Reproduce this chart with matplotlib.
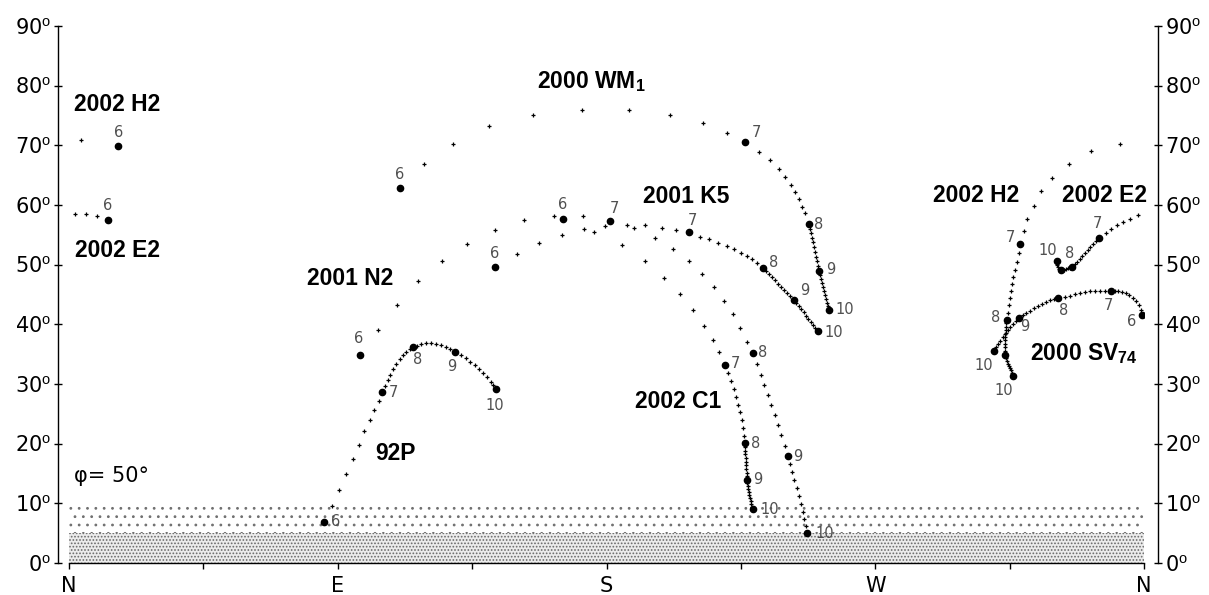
import matplotlib.pyplot as plt

plt.rcParams['mathtext.fontset'] = 'custom'
plt.rcParams['mathtext.rm'] = 'Liberation Sans'
plt.rcParams['mathtext.bf'] = 'Liberation Sans:bold'
plt.rcParams['hatch.linewidth'] = 0.8

month_names = ['6', '7', '8', '9', '10']

# 2000 WM1
wm1_month_az = [110.9, 226.4, 247.8, 251.2, 254.5]
wm1_month_alt = [62.8, 70.6, 56.8, 48.9, 42.4]
wm1_dots_az = [118.9, 128.6, 140.7, 155.4, 171.8, 187.5, 201.3, 212.3, 220.4,
               231.1, 234.8, 237.8, 239.8, 241.8, 243.1, 244.5, 245.5, 246.5,
               248.2, 248.5, 248.8, 249.2, 249.5, 249.8, 250.2, 250.5, 250.8,
               251.5, 251.8, 252.2, 252.5, 252.8, 253.2, 253.5, 253.8, 254.2]
wm1_dots_alt = [66.9, 70.2, 73.2, 75.1, 75.9, 75.9, 75.1, 73.7, 72.1,
                68.9, 67.5, 66.0, 64.7, 63.3, 62.2, 61.0, 59.7, 58.7,
                56.0, 55.3, 54.5, 53.8, 53.0, 52.1, 51.3, 50.6, 49.8,
                48.3, 47.6, 46.9, 46.3, 45.6, 44.9, 44.2, 43.6, 43.1]

# 2001 N2
n2_month_az = [97.5, 181.2, 229.1, 240.8, 247.2]
n2_month_alt = [34.9, 57.3, 35.2, 17.9, 5.0]
n2_dots_az = [103.5, 109.8, 116.9, 124.9, 133.3, 142.7, 152.4, 162.4, 172.1,
              189.2, 196.3, 202.3, 207.6, 212.0, 216.0, 219.4, 222.4, 224.7, 227.1,
              230.4, 231.8, 232.8, 234.1, 235.1, 236.4, 237.4, 238.4, 239.8,
              241.5, 242.1, 242.8, 243.8, 244.5, 245.1, 245.8, 246.1, 246.8]
n2_dots_alt = [39.0, 43.2, 47.3, 50.6, 53.5, 55.8, 57.5, 58.2, 58.2,
               56.1, 54.5, 52.6, 50.6, 48.4, 46.3, 43.9, 41.7, 39.4, 37.0,
               33.4, 31.5, 29.8, 28.2, 26.5, 24.8, 23.1, 21.5, 19.6,
               16.6, 15.3, 13.9, 12.6, 11.2, 9.9, 8.5, 7.4, 6.2]

# 2001 K5
k5_month_az = [142.7, 207.6, 232.4, 242.8, 250.8]
k5_month_alt = [49.6, 55.5, 49.4, 44.1, 38.9]
k5_dots_az = [150.0, 157.4, 165.1, 172.5, 179.5, 186.9, 192.9, 198.6, 203.3,
              211.3, 214.3, 217.4, 220.4, 222.7, 225.1, 227.1, 228.7, 230.4,
              233.4, 234.4, 235.4, 236.4, 237.4, 238.4, 239.5, 240.5, 241.5,
              243.5, 244.5, 245.1, 246.1, 246.8, 247.5, 248.5, 249.2, 249.8]
k5_dots_alt = [51.8, 53.6, 55.0, 56.0, 56.5, 56.6, 56.6, 56.1, 55.8,
               54.6, 54.3, 53.6, 53.1, 52.6, 52.0, 51.5, 50.9, 50.3,
               48.9, 48.4, 47.9, 47.4, 46.8, 46.3, 45.8, 45.2, 44.7,
               43.6, 43.1, 42.6, 42.1, 41.4, 40.9, 40.4, 39.9, 39.4]

# 2002 C1
c1_month_az = [165.4, 219.7, 226.4, 227.1, 229.1]
c1_month_alt = [57.7, 33.2, 20.1, 13.9, 9.0]
c1_dots_az = [175.8, 185.2, 192.9, 199.3, 204.6, 209.0, 212.7, 215.7, 217.7,
              220.7, 221.7, 222.7, 223.4, 224.0, 224.7, 225.4, 225.7, 226.1,
              226.4, 226.4, 226.4, 226.7, 226.7, 226.7, 226.7, 227.1, 227.1,
              227.1, 227.4, 227.4, 227.7, 227.7, 228.1, 228.4, 228.4, 228.7]
c1_dots_alt = [55.5, 53.3, 50.6, 47.8, 45.1, 42.4, 39.7, 37.4, 35.4,
               31.8, 30.5, 29.2, 27.8, 26.5, 25.3, 24.0, 22.6, 21.3,
               19.4, 18.8, 18.3, 17.6, 16.9, 16.4, 15.8, 15.1, 14.6,
               13.4, 12.9, 12.4, 11.9, 11.4, 10.9, 10.4, 9.9, 9.4]

# 92P
p92_month_az = [85.4, 104.8, 115.2, 129.3, 143.0]
p92_month_alt = [6.9, 28.7, 36.2, 35.4, 29.2]
p92_dots_az = [88.1, 90.4, 92.8, 95.1, 97.1, 98.8, 100.8, 102.1, 103.8,
               105.8, 106.8, 107.5, 108.5, 109.5, 110.9, 111.9, 112.9, 114.2,
               116.5, 117.9, 119.6, 121.2, 122.9, 124.6, 126.3, 127.6,
               131.3, 133.0, 134.3, 136.0, 137.3, 138.6, 140.0, 141.3, 142.0]
p92_dots_alt = [9.6, 12.2, 14.9, 17.4, 19.8, 22.1, 24.0, 25.6, 27.1,
                29.7, 30.7, 31.5, 32.5, 33.4, 34.2, 34.9, 35.4, 35.9,
                36.4, 36.7, 36.9, 36.9, 36.7, 36.5, 36.2, 35.9,
                34.9, 34.4, 33.7, 33.2, 32.5, 31.8, 31.2, 30.3, 29.8]

# 2002 H2
h2_month_az = [16.4, 318.5, 314.1, 313.5, 316.1]
h2_month_alt = [69.9, 53.5, 40.7, 34.9, 31.3]
h2_dots_az = [4.0, 352.0, 342.3, 334.9, 329.2, 325.5, 323.2, 320.8, 319.8,
              318.2, 317.5, 316.8, 316.1, 315.8, 315.5, 315.1, 314.8, 314.5,
              313.8, 313.8, 313.8, 313.8, 313.5, 313.5, 313.5, 313.5, 313.5,
              313.8, 314.1, 314.5, 314.8, 315.1, 315.5, 315.8]
h2_dots_alt = [70.9, 70.2, 69.0, 66.9, 64.5, 62.3, 59.8, 57.7, 55.6,
               52.0, 50.4, 49.1, 47.9, 46.8, 45.6, 44.4, 43.2, 41.9,
               40.2, 39.6, 39.0, 38.5, 37.9, 37.4, 36.7, 36.2, 35.5,
               34.4, 33.9, 33.4, 33.0, 32.7, 32.3, 31.8]

# 2002 E2
e2_month_az = [13.1, 344.9, 335.9, 332.2, 330.9]
e2_month_alt = [57.5, 54.5, 49.6, 49.1, 50.6]
e2_dots_az = [9.4, 5.7, 2.0, 358.0, 355.3, 353.0, 351.0, 349.0, 347.3,
              343.9, 342.9, 341.9, 341.3, 340.3, 339.3, 338.6, 337.6, 336.9,
              335.2, 334.6, 333.9, 333.2,
              331.6, 331.2, 330.9, 330.9]
e2_dots_alt = [58.2, 58.5, 58.5, 58.3, 57.7, 57.1, 56.6, 56.0, 55.3,
               54.0, 53.5, 53.0, 52.5, 52.0, 51.5, 50.9, 50.4, 50.1,
               49.4, 49.4, 49.3, 49.1,
               49.3, 49.6, 49.9, 50.3]

# 2000 SV74
sv74_month_az = [359.3, 349.0, 331.2, 318.2, 309.8]
sv74_month_alt = [41.6, 45.6, 44.4, 41.1, 35.5]
sv74_dots_az = [359.0, 358.3, 357.3, 356.3, 355.0, 354.0, 352.6, 351.3, 350.3,
                347.0, 345.3, 343.6, 341.9, 340.3, 338.6, 336.9, 335.2, 333.6,
                329.9, 328.5, 327.2, 325.9, 324.5, 323.2, 321.8, 320.5, 319.5,
                317.1, 316.1, 315.1, 314.5, 313.5, 312.8, 311.8, 311.1, 310.5]
sv74_dots_alt = [42.4, 43.2, 43.9, 44.4, 44.9, 45.2, 45.4, 45.6, 45.6,
                 45.6, 45.6, 45.6, 45.6, 45.4, 45.2, 45.1, 44.7, 44.6,
                 44.2, 44.1, 43.7, 43.4, 43.1, 42.7, 42.2, 41.9, 41.6,
                 40.6, 40.1, 39.6, 39.0, 38.4, 37.9, 37.2, 36.7, 36.2]

# comet names: text, azimuth, altitude of the text's left baseline
names = [
    ('2002 H2', 1.7, 75.7),
    ('2002 E2', 2.0, 51.3),
    ('2000 WM$_\\mathbf{1}$', 156.7, 79.6),
    ('2001 K5', 192.2, 60.3),
    ('2001 N2', 79.7, 46.6),
    ('2002 C1', 189.6, 26.0),
    ('92P', 102.5, 17.3),
    ('2002 H2', 289.4, 60.5),
    ('2002 E2', 332.6, 60.5),
    ('2000 SV$_\\mathbf{74}$', 321.8, 34.0),
]

# month-label offsets in pixels (dx, dy up), one per month point
comets = [
    (wm1_dots_az, wm1_dots_alt, wm1_month_az, wm1_month_alt, month_names,
     [(-1, 14), (11, 9), (10, 0), (12, 2), (16, 1)]),
    (n2_dots_az, n2_dots_alt, n2_month_az, n2_month_alt, month_names,
     [(-2, 16), (4, 13), (10, 0), (10, 0), (18, 0)]),
    (k5_dots_az, k5_dots_alt, k5_month_az, k5_month_alt, month_names,
     [(0, 14), (4, 11), (11, 6), (11, 9), (16, -2)]),
    (c1_dots_az, c1_dots_alt, c1_month_az, c1_month_alt, month_names,
     [(0, 14), (10, 1), (11, 0), (11, 1), (17, 0)]),
    (p92_dots_az, p92_dots_alt, p92_month_az, p92_month_alt, month_names,
     [(12, 0), (11, -1), (5, -12), (-3, -15), (-1, -17)]),
    (h2_dots_az, h2_dots_alt, h2_month_az, h2_month_alt, ['6', '7', '8', '', '10'],
     [(1, 13), (-10, 6), (-11, 3), (0, 0), (-9, -14)]),
    (e2_dots_az, e2_dots_alt, e2_month_az, e2_month_alt, ['6', '7', '8', '', '10'],
     [(0, 14), (-1, 14), (-2, 14), (0, 0), (-9, 11)]),
    (sv74_dots_az, sv74_dots_alt, sv74_month_az, sv74_month_alt, month_names,
     [(-10, -7), (-3, -15), (6, -12), (6, -9), (-10, -14)]),
]

fig = plt.figure(figsize=(12.09, 5.95), dpi=100)
ax = fig.add_axes([69 / 1209, 32 / 595, 1075 / 1209, 537 / 595])

# horizon haze
ax.axhspan(0, 5, facecolor='#ececec', edgecolor='#6a6a6a', hatch='.....',
           linewidth=0, zorder=0)
ax.axhspan(5, 9.5, facecolor='white', edgecolor='#707070', hatch='..',
           linewidth=0, zorder=0)

for daz, dalt, maz, malt, labels, offs in comets:
    ax.plot(daz, dalt, ls='none', marker='+', ms=3, mew=0.9, color='black', zorder=3)
    ax.plot(maz, malt, ls='none', marker='o', ms=4.5, color='black', zorder=4)
    for a, h, lab, (dx, dy) in zip(maz, malt, labels, offs):
        if lab:
            ax.annotate(lab, (a, h), xytext=(dx, dy), textcoords='offset pixels',
                        ha='center', va='center', fontsize=10.5, color='#505050',
                        zorder=5)

for txt, a, h in names:
    ax.text(a, h, txt, ha='left', va='baseline', fontsize=16.5,
            fontweight='bold', family='Liberation Sans', zorder=5)

ax.text(1.7, 13.6, 'φ= 50°', ha='left', va='baseline', fontsize=15)

ax.set_xlim(0, 360)
ax.set_ylim(0, 90)
ax.set_xticks([0, 90, 180, 270, 360])
ax.set_xticklabels(['N', 'E', 'S', 'W', 'N'])
ax.set_xticks([45, 135, 225, 315], minor=True)
ax.tick_params(axis='x', which='both', direction='out', length=4, width=1,
               labelsize=15, pad=5)
yt = list(range(0, 91, 10))
ax.set_yticks(yt)
ax.set_yticklabels([f'{v}$^\\mathrm{{o}}$' for v in yt])
ax.tick_params(axis='y', direction='inout', length=6, width=1, left=True,
               right=True, labelleft=True, labelright=True, labelsize=15, pad=2)

ax.spines['top'].set_visible(False)
ax.spines['left'].set_position(('outward', 8))
ax.spines['right'].set_position(('outward', 10))
for s in ax.spines.values():
    s.set_linewidth(1)

fig.savefig('out.png', dpi=100)
